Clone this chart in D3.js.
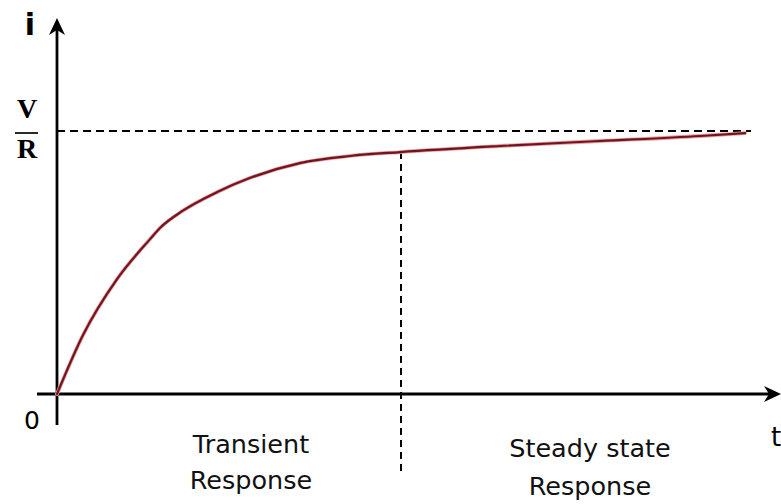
<!DOCTYPE html>
<html><head><meta charset="utf-8">
<script src="https://cdn.jsdelivr.net/npm/d3@7"></script>
<style>body{margin:0;background:#fff}svg{display:block}</style>
</head><body>
<svg id="c" width="781" height="504"></svg>
<script>
// data: time (arbitrary units 0..10), current as fraction of V/R
const tValues = [0, 0.38, 0.87, 1.35, 1.5, 1.83, 2.33, 2.8, 3.53, 4.26, 4.99, 6.44, 7.89, 9.35, 10];
const iValues = [0, 0.225, 0.436, 0.588, 0.632, 0.697, 0.768, 0.821, 0.878, 0.905, 0.92, 0.943, 0.962, 0.981, 0.992];
const steadyLevel = 1;      // V/R
const boundaryT = 5;        // transient / steady state boundary
const regionLabels = [["Transient", "Response"], ["Steady state", "Response"]];

const svg = d3.select("#c");
const x = d3.scaleLinear().domain([0, 10]).range([57, 745]);
const y = d3.scaleLinear().domain([0, 1]).range([394, 131]);

// dashed reference lines
svg.append("line").attr("x1", x(0)).attr("x2", 751).attr("y1", y(steadyLevel)).attr("y2", y(steadyLevel))
  .attr("stroke", "#000").attr("stroke-width", 2).attr("stroke-dasharray", "8,5");
svg.append("line").attr("x1", x(boundaryT)).attr("x2", x(boundaryT)).attr("y1", 152).attr("y2", 476)
  .attr("stroke", "#000").attr("stroke-width", 2).attr("stroke-dasharray", "7,5");

// axes
svg.append("line").attr("x1", 37).attr("x2", 772).attr("y1", y(0)).attr("y2", y(0))
  .attr("stroke", "#000").attr("stroke-width", 2.8);
svg.append("line").attr("x1", x(0)).attr("x2", x(0)).attr("y1", 26).attr("y2", 425)
  .attr("stroke", "#000").attr("stroke-width", 2.8);
// arrowheads
const ax = x(0);
svg.append("path").attr("d", `M${ax},18 L${ax+8},35 L${ax},30 L${ax-8},35 Z`).attr("fill", "#000");
const ay = y(0);
svg.append("path").attr("d", `M781,${ay} L764,${ay-8} L769,${ay} L764,${ay+8} Z`).attr("fill", "#000");

// curve
const data = tValues.map((t, k) => [t, iValues[k]]);
const line = d3.line().x(d => x(d[0])).y(d => y(d[1])).curve(d3.curveMonotoneX);
svg.append("path").datum(data).attr("d", line).attr("fill", "none")
  .attr("stroke", "#e8a0a0").attr("stroke-width", 3.8).attr("stroke-linecap", "round");
svg.append("path").datum(data).attr("d", line).attr("fill", "none")
  .attr("stroke", "#701520").attr("stroke-width", 2.2).attr("stroke-linecap", "round");

// labels
const sans = "DejaVu Sans, Verdana, sans-serif";
svg.append("text").attr("x", 30).attr("y", 35).attr("text-anchor", "middle")
  .attr("font-family", sans).attr("font-size", 30).attr("font-weight", "bold").text("i");
svg.append("text").attr("x", 776).attr("y", 446).attr("text-anchor", "middle")
  .attr("font-family", sans).attr("font-size", 26).text("t");
svg.append("text").attr("x", 32).attr("y", 429).attr("text-anchor", "middle")
  .attr("font-family", sans).attr("font-size", 25).text("0");

const serif = "Liberation Serif, Times New Roman, serif";
svg.append("text").attr("x", 27).attr("y", 118).attr("text-anchor", "middle")
  .attr("font-family", serif).attr("font-size", 28).attr("font-weight", "bold").text("V");
svg.append("line").attr("x1", 15).attr("x2", 38).attr("y1", 133).attr("y2", 133)
  .attr("stroke", "#111").attr("stroke-width", 1.8);
svg.append("text").attr("x", 27).attr("y", 158).attr("text-anchor", "middle")
  .attr("font-family", serif).attr("font-size", 28).attr("font-weight", "bold").text("R");

const labelPos = [[251, 453, 489], [590, 457, 495]];
regionLabels.forEach((lines, k) => {
  lines.forEach((s, j) => {
    svg.append("text").attr("x", labelPos[k][0]).attr("y", labelPos[k][1 + j]).attr("text-anchor", "middle")
      .attr("font-family", sans).attr("font-size", 25.5).attr("fill", "#111").text(s);
  });
});
</script>
</body></html>
